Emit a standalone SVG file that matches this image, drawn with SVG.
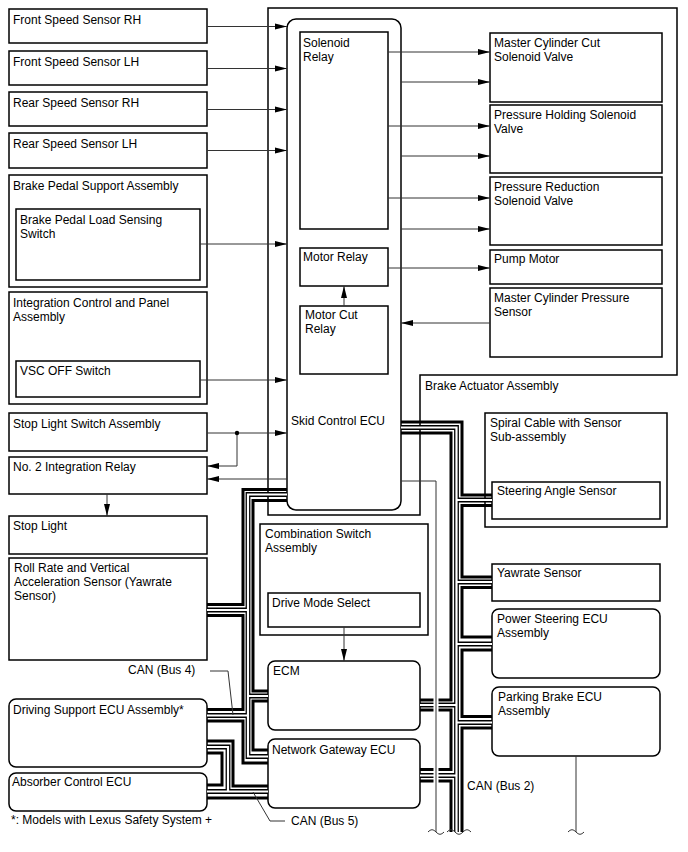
<svg xmlns="http://www.w3.org/2000/svg" width="688" height="852" viewBox="0 0 688 852">
<defs>
<style>
text{font-family:"Liberation Sans",Arial,sans-serif;font-size:12px;fill:#000}
.box{fill:#fff;stroke:#000;stroke-width:1.5}
.frame{fill:none;stroke:#000;stroke-width:1.5}
.wire{fill:none;stroke:#333;stroke-width:1}
.thk{fill:none;stroke:#000;stroke-width:3}
.hb{fill:none;stroke:#000;stroke-width:4.8}
.hw{fill:none;stroke:#fff;stroke-width:2.2}
.halo{fill:none;stroke:#fff;stroke-width:5}
</style>
<marker id="ar" markerUnits="userSpaceOnUse" markerWidth="12" markerHeight="8" refX="12" refY="4" orient="auto">
<path d="M0,1 L12,4 L0,7 z" fill="#000"/>
</marker>
</defs>
<rect width="688" height="852" fill="#fff"/>

<g id="brake-actuator">
<path class="frame" d="M268,8 H677 V375 H420 V515 H268 Z"/>
<text x="425" y="390">Brake Actuator Assembly</text>
</g>

<g id="skid-control-ecu">
<rect class="box" x="287" y="19" width="114" height="491" rx="9"/>
<text x="291" y="425">Skid Control ECU</text>
</g>
<g id="solenoid-relay"><rect class="box" x="300" y="32" width="88" height="197"/><text x="303" y="47">Solenoid</text><text x="303" y="61">Relay</text></g>
<g id="motor-relay"><rect class="box" x="300" y="248" width="88" height="38"/><text x="303" y="261">Motor Relay</text></g>
<g id="motor-cut-relay"><rect class="box" x="300" y="306" width="88" height="68"/><text x="305" y="319">Motor Cut</text><text x="305" y="333">Relay</text></g>

<g id="front-speed-rh"><rect class="box" x="9" y="9" width="198" height="34"/><text x="13" y="24">Front Speed Sensor RH</text></g>
<g id="front-speed-lh"><rect class="box" x="9" y="51" width="198" height="34"/><text x="13" y="66">Front Speed Sensor LH</text></g>
<g id="rear-speed-rh"><rect class="box" x="9" y="92" width="198" height="34"/><text x="13" y="107">Rear Speed Sensor RH</text></g>
<g id="rear-speed-lh"><rect class="box" x="9" y="133" width="198" height="35"/><text x="13" y="148">Rear Speed Sensor LH</text></g>
<g id="brake-pedal-support"><rect class="box" x="9" y="175" width="198" height="112"/><text x="13" y="190">Brake Pedal Support Assembly</text></g>
<g id="brake-pedal-switch"><rect class="box" x="16" y="209" width="184" height="71"/><text x="20" y="224">Brake Pedal Load Sensing</text><text x="20" y="238">Switch</text></g>
<g id="integration-control"><rect class="box" x="9" y="292" width="198" height="112"/><text x="13" y="307">Integration Control and Panel</text><text x="13" y="321">Assembly</text></g>
<g id="vsc-off"><rect class="box" x="16" y="361" width="184" height="36"/><text x="20" y="375">VSC OFF Switch</text></g>
<g id="stop-light-switch"><rect class="box" x="9" y="413" width="198" height="38"/><text x="13" y="428">Stop Light Switch Assembly</text></g>
<g id="no2-relay"><rect class="box" x="9" y="457" width="198" height="37"/><text x="13" y="471">No. 2 Integration Relay</text></g>
<g id="stop-light"><rect class="box" x="9" y="516" width="198" height="38"/><text x="13" y="530">Stop Light</text></g>
<g id="roll-rate"><rect class="box" x="9" y="558" width="198" height="102"/><text x="14" y="572">Roll Rate and Vertical</text><text x="14" y="586">Acceleration Sensor (Yawrate</text><text x="14" y="600">Sensor)</text></g>
<g id="driving-support"><rect class="box" x="9" y="699" width="198" height="68" rx="7"/><text x="13" y="714">Driving Support ECU Assembly*</text></g>
<g id="absorber"><rect class="box" x="9" y="773" width="198" height="38" rx="7"/><text x="12" y="786">Absorber Control ECU</text></g>
<text x="11" y="824">*: Models with Lexus Safety System +</text>

<g id="mc-cut"><rect class="box" x="490" y="33" width="172" height="69"/><text x="494" y="47">Master Cylinder Cut</text><text x="494" y="61">Solenoid Valve</text></g>
<g id="pressure-holding"><rect class="box" x="490" y="105" width="172" height="68"/><text x="494" y="119">Pressure Holding Solenoid</text><text x="494" y="133">Valve</text></g>
<g id="pressure-reduction"><rect class="box" x="490" y="177" width="172" height="68"/><text x="494" y="191">Pressure Reduction</text><text x="494" y="205">Solenoid Valve</text></g>
<g id="pump-motor"><rect class="box" x="490" y="250" width="172" height="34"/><text x="494" y="263">Pump Motor</text></g>
<g id="mc-pressure"><rect class="box" x="490" y="288" width="172" height="69"/><text x="494" y="302">Master Cylinder Pressure</text><text x="494" y="316">Sensor</text></g>
<g id="spiral-cable"><rect class="box" x="485" y="413" width="182" height="114"/><text x="490" y="427">Spiral Cable with Sensor</text><text x="490" y="441">Sub-assembly</text></g>
<g id="steering-angle"><rect class="box" x="492" y="482" width="168" height="37"/><text x="497" y="495">Steering Angle Sensor</text></g>
<g id="yawrate"><rect class="box" x="492" y="564" width="168" height="37"/><text x="497" y="577">Yawrate Sensor</text></g>
<g id="power-steering"><rect class="box" x="492" y="609" width="168" height="69" rx="7"/><text x="497" y="623">Power Steering ECU</text><text x="497" y="637">Assembly</text></g>
<g id="parking-brake"><rect class="box" x="492" y="687" width="168" height="69" rx="7"/><text x="498" y="701">Parking Brake ECU</text><text x="498" y="715">Assembly</text></g>

<g id="combination-switch"><rect class="box" x="260" y="524" width="168" height="111"/><text x="265" y="538">Combination Switch</text><text x="265" y="552">Assembly</text></g>
<g id="drive-mode"><rect class="box" x="268" y="593" width="152" height="34"/><text x="272" y="607">Drive Mode Select</text></g>
<g id="ecm"><rect class="box" x="268" y="661" width="152" height="69" rx="7"/><text x="273" y="675">ECM</text></g>
<g id="network-gateway"><rect class="box" x="268" y="739" width="152" height="69" rx="7"/><text x="272" y="754">Network Gateway ECU</text></g>

<g id="connectors">
<g class="wire" marker-end="url(#ar)">
<path d="M207,26.5 H287"/>
<path d="M207,68.5 H287"/>
<path d="M207,109.5 H287"/>
<path d="M207,150.5 H287"/>
<path d="M200,244 H287"/>
<path d="M200,380 H287"/>
<path d="M207,433 H287"/>
<path d="M237,433 V466 H207"/>
<path d="M287,479 H207"/>
<path d="M107,494 V516"/>
<path d="M388,52 H490"/>
<path d="M401,82 H490"/>
<path d="M388,126 H490"/>
<path d="M401,156 H490"/>
<path d="M388,198 H490"/>
<path d="M401,229 H490"/>
<path d="M388,268 H490"/>
<path d="M490,323 H401"/>
<path d="M344,306 V286"/>
<path d="M344,627 V661"/>
</g>
<circle cx="237" cy="433" r="2.2" fill="#000"/>

<!-- CAN bus: thick lines -->
<g class="thk">
<path d="M287,489.5 H243 V604.5 H207"/>
<path d="M207,615.5 H243 V709.5 H207"/>
<path d="M207,721 H243 V763 H268"/>
<path d="M287,500.5 H253 V691 H268"/>
<path d="M268,701 H253 V750 H268"/>
<path d="M401,422 H462 V495 H492"/>
<path d="M492,505.5 H462 V577 H492"/>
<path d="M492,587.5 H462 V637 H492"/>
<path d="M492,650 H462 V716.5 H492"/>
<path d="M492,728 H462 V832"/>
<path d="M401,433 H451 V700 H420"/>
<path d="M420,710 H451 V769.5 H420"/>
<path d="M420,781 H451 V832"/>
<path d="M207,741 H233 V786 H268"/>
<path d="M207,753 H222 V785 H207"/>
<path d="M207,798 H268"/>
</g>
<!-- CAN bus: hollow lines -->
<g class="hb">
<path id="h1" d="M287,494.5 H248 V756.5 H268 M248,610 H207 M248,696 H268 M248,715.5 H207"/>
<path id="h2" d="M401,427.5 H456.5 V832 M456.5,500 H492 M456.5,582 H492 M456.5,644 H492 M456.5,722.5 H492 M456.5,705 H420 M456.5,775.5 H420"/>
<path id="h3" d="M207,747 H228 V791.5 H268 M207,791.5 H228"/>
</g>
<g class="hw">
<use href="#h1"/><use href="#h2"/><use href="#h3"/>
</g>
<!-- thin line crossing -->
<path class="halo" d="M436,490 V826"/>
<path class="wire" d="M401,481 H436 V832"/>
<path class="wire" d="M576,756 V832"/>
<!-- break marks -->
<g class="wire">
<path d="M428,832 c3,-3 5,-3 8,0 s5,3 8,0"/>
<path d="M447,832 c3,-3 5,-3 8,0 s5,3 8,0 s5,-3 8,0"/>
<path d="M568,832 c3,-3 5,-3 8,0 s5,3 8,0"/>
</g>
<!-- CAN labels -->
<path class="wire" d="M210,671 H228 L233,715"/>
<path class="wire" d="M285,821 H270 L253,792"/>
</g>
<text x="128" y="674">CAN (Bus 4)</text>
<text x="291" y="825">CAN (Bus 5)</text>
<text x="467" y="790">CAN (Bus 2)</text>
</svg>
